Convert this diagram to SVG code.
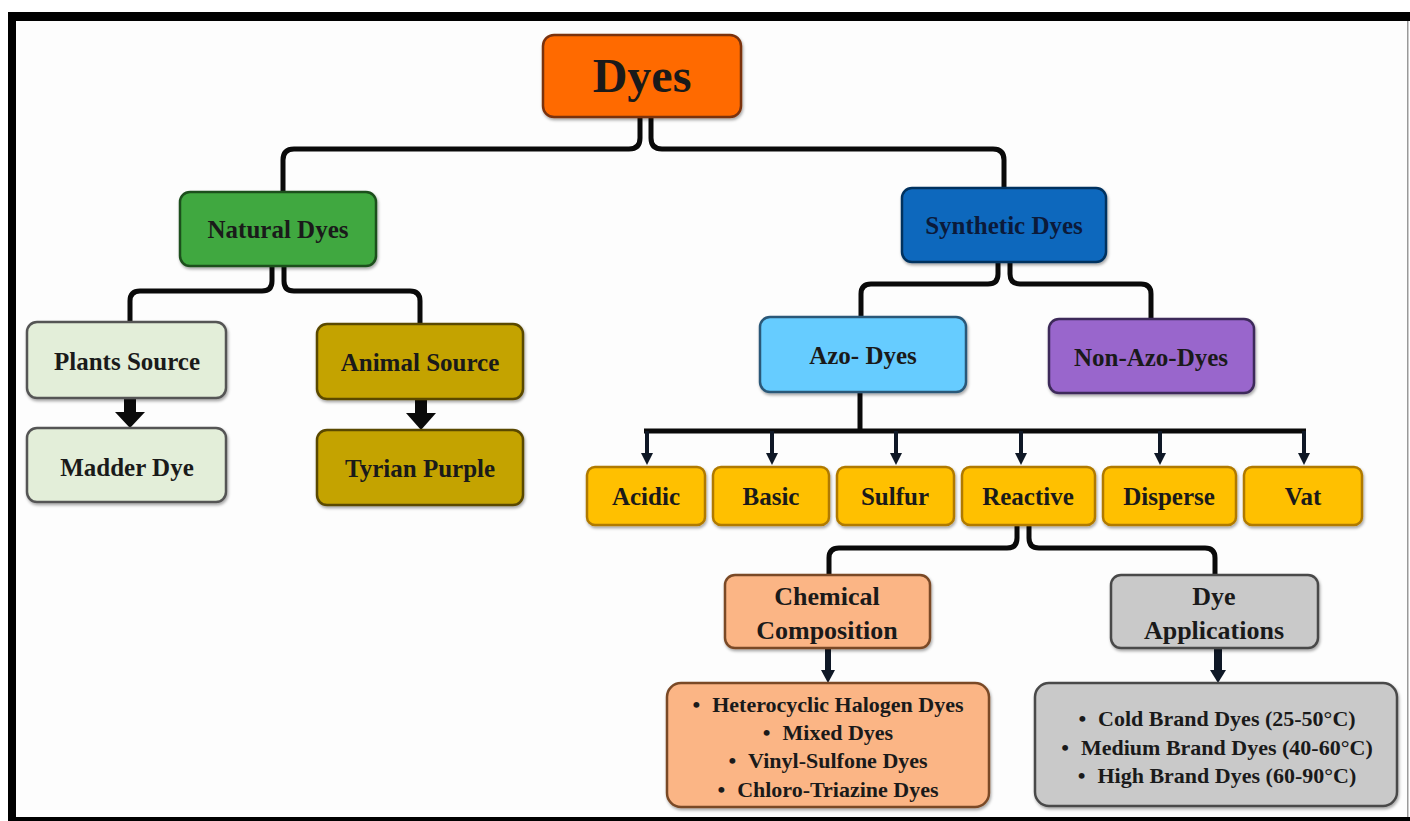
<svg xmlns="http://www.w3.org/2000/svg" width="1410" height="821" viewBox="0 0 1410 821">
<defs>
<filter id="sh" x="-5%" y="-5%" width="110%" height="120%">
<feDropShadow dx="1" dy="2" stdDeviation="1.5" flood-color="#000" flood-opacity="0.35"/>
</filter>
<style>
.box{stroke-width:2.5;filter:url(#sh)}
.t{font-family:"Liberation Serif","Times New Roman",serif;font-weight:bold;fill:#1a1a1a;text-anchor:middle}
.lbl{font-size:25px}
.lst{font-size:22px}
.con{fill:none;stroke:#0a0a0a;stroke-width:5;stroke-linecap:butt;stroke-linejoin:round}
.nav{fill:#0f1826}
.navs{stroke:#0f1826;fill:none}
</style>
</defs>
<rect x="0" y="0" width="1410" height="821" fill="#ffffff"/>
<rect x="16" y="21" width="1391" height="796" fill="#fdfdfd"/>
<g id="frame">
<rect x="8" y="12" width="1402" height="9" fill="#000"/>
<rect x="8" y="12" width="8" height="809" fill="#000"/>
<rect x="8" y="817" width="1402" height="4" fill="#000"/>
<rect x="1407" y="21" width="1.5" height="796" fill="#9a9a9a"/>
</g>

<g id="connectors">
<path class="con" d="M640,117 L640,138 Q640,149 629,149 L294,149 Q283,149 283,160 L283,192"/>
<path class="con" d="M651,117 L651,138 Q651,149 662,149 L993,149 Q1004,149 1004,160 L1004,188"/>
<path class="con" d="M272,266 L272,281 Q272,291 262,291 L140,291 Q130,291 130,301 L130,322"/>
<path class="con" d="M284,266 L284,281 Q284,291 294,291 L410,291 Q420,291 420,301 L420,324"/>
<path class="con" d="M998,262 L998,274 Q998,284 988,284 L871,284 Q861,284 861,294 L861,317"/>
<path class="con" d="M1010,262 L1010,274 Q1010,284 1020,284 L1141,284 Q1151,284 1151,294 L1151,319"/>
<path class="con" d="M1017,525 L1017,538 Q1017,548 1007,548 L839,548 Q829,548 829,558 L829,575"/>
<path class="con" d="M1029,525 L1029,538 Q1029,548 1039,548 L1205,548 Q1215,548 1215,558 L1215,575"/>
<path class="con" d="M860,392 L860,431"/>
<path class="con" d="M644,431 L1306,431"/>
<g class="navs" stroke-width="4">
<path d="M647,431 V455"/><path d="M772,431 V455"/><path d="M896,431 V455"/><path d="M1021,431 V455"/><path d="M1160,431 V455"/><path d="M1304,431 V455"/>
</g>
<g class="nav">
<polygon points="641,453 653,453 647,465"/>
<polygon points="766,453 778,453 772,465"/>
<polygon points="890,453 902,453 896,465"/>
<polygon points="1015,453 1027,453 1021,465"/>
<polygon points="1154,453 1166,453 1160,465"/>
<polygon points="1298,453 1310,453 1304,465"/>
</g>
<g fill="#0a0a0a">
<rect x="124" y="398" width="12" height="16"/>
<polygon points="115,412 145,412 130,428"/>
<rect x="415" y="399" width="12" height="16"/>
<polygon points="406,413 436,413 421,430"/>
</g>
<g class="nav">
<rect x="825" y="648" width="6" height="24"/>
<polygon points="821,670 835,670 828,683"/>
<rect x="1214" y="648" width="8" height="24"/>
<polygon points="1210,670 1226,670 1218,683"/>
</g>
</g>

<g id="dyes"><rect class="box" x="543" y="35" width="198" height="82" rx="11" fill="#FF6B00" stroke="#7a3210"/><text class="t" x="642" y="92" font-size="48">Dyes</text></g>
<g id="natural"><rect class="box" x="180" y="192" width="196" height="74" rx="10" fill="#3FA83F" stroke="#1d4f1d"/><text class="t lbl" x="278" y="238">Natural Dyes</text></g>
<g id="synthetic"><rect class="box" x="902" y="188" width="204" height="74" rx="10" fill="#0A68BD" stroke="#06325e"/><text class="t lbl" x="1004" y="234" style="fill:#0b1a3a">Synthetic Dyes</text></g>
<g id="plants"><rect class="box" x="27" y="322" width="199" height="76" rx="10" fill="#E3EED9" stroke="#555"/><text class="t lbl" x="127" y="370">Plants Source</text></g>
<g id="madder"><rect class="box" x="27" y="428" width="199" height="74" rx="10" fill="#E3EED9" stroke="#555"/><text class="t lbl" x="127" y="476">Madder Dye</text></g>
<g id="animal"><rect class="box" x="317" y="324" width="206" height="75" rx="10" fill="#C4A300" stroke="#5a4800"/><text class="t lbl" x="420" y="371">Animal Source</text></g>
<g id="tyrian"><rect class="box" x="317" y="430" width="206" height="75" rx="10" fill="#C4A300" stroke="#5a4800"/><text class="t lbl" x="420" y="477">Tyrian Purple</text></g>
<g id="azo"><rect class="box" x="760" y="317" width="206" height="75" rx="10" fill="#66CCFF" stroke="#2c5878"/><text class="t lbl" x="863" y="364">Azo- Dyes</text></g>
<g id="nonazo"><rect class="box" x="1049" y="319" width="205" height="74" rx="10" fill="#9966CC" stroke="#3e2a5a"/><text class="t lbl" x="1151" y="366">Non-Azo-Dyes</text></g>
<g id="acidic"><rect class="box" x="587" y="467" width="118" height="58" rx="8" fill="#FFC000" stroke="#b07a00"/><text class="t lbl" x="646" y="505">Acidic</text></g>
<g id="basic"><rect class="box" x="713" y="467" width="116" height="58" rx="8" fill="#FFC000" stroke="#b07a00"/><text class="t lbl" x="771" y="505">Basic</text></g>
<g id="sulfur"><rect class="box" x="837" y="467" width="117" height="58" rx="8" fill="#FFC000" stroke="#b07a00"/><text class="t lbl" x="895" y="505">Sulfur</text></g>
<g id="reactive"><rect class="box" x="962" y="467" width="133" height="58" rx="8" fill="#FFC000" stroke="#b07a00"/><text class="t lbl" x="1028" y="505">Reactive</text></g>
<g id="disperse"><rect class="box" x="1103" y="467" width="133" height="58" rx="8" fill="#FFC000" stroke="#b07a00"/><text class="t lbl" x="1169" y="505">Disperse</text></g>
<g id="vat"><rect class="box" x="1244" y="467" width="118" height="58" rx="8" fill="#FFC000" stroke="#b07a00"/><text class="t lbl" x="1303" y="505">Vat</text></g>
<g id="chemical"><rect class="box" x="725" y="575" width="205" height="73" rx="10" fill="#FBB585" stroke="#7a4a28"/><text class="t" x="827" y="605" font-size="26">Chemical</text><text class="t" x="827" y="639" font-size="26">Composition</text></g>
<g id="dyeapp"><rect class="box" x="1111" y="575" width="207" height="73" rx="10" fill="#C9C9C9" stroke="#4a4a4a"/><text class="t" x="1214" y="605" font-size="26">Dye</text><text class="t" x="1214" y="639" font-size="26">Applications</text></g>
<g id="chemlist"><rect class="box" x="667" y="683" width="322" height="124" rx="14" fill="#FBB585" stroke="#7a4a28"/>
<text class="t lst" x="828" y="712">•<tspan dx="12">Heterocyclic Halogen Dyes</tspan></text>
<text class="t lst" x="828" y="740">•<tspan dx="12">Mixed Dyes</tspan></text>
<text class="t lst" x="828" y="768">•<tspan dx="12">Vinyl-Sulfone Dyes</tspan></text>
<text class="t lst" x="828" y="797">•<tspan dx="12">Chloro-Triazine Dyes</tspan></text>
</g>
<g id="applist"><rect class="box" x="1035" y="683" width="362" height="123" rx="14" fill="#C9C9C9" stroke="#4a4a4a"/>
<text class="t lst" x="1217" y="726">•<tspan dx="12">Cold Brand Dyes (25-50°C)</tspan></text>
<text class="t lst" x="1217" y="755">•<tspan dx="12">Medium Brand Dyes (40-60°C)</tspan></text>
<text class="t lst" x="1217" y="783">•<tspan dx="12">High Brand Dyes (60-90°C)</tspan></text>
</g>
</svg>
